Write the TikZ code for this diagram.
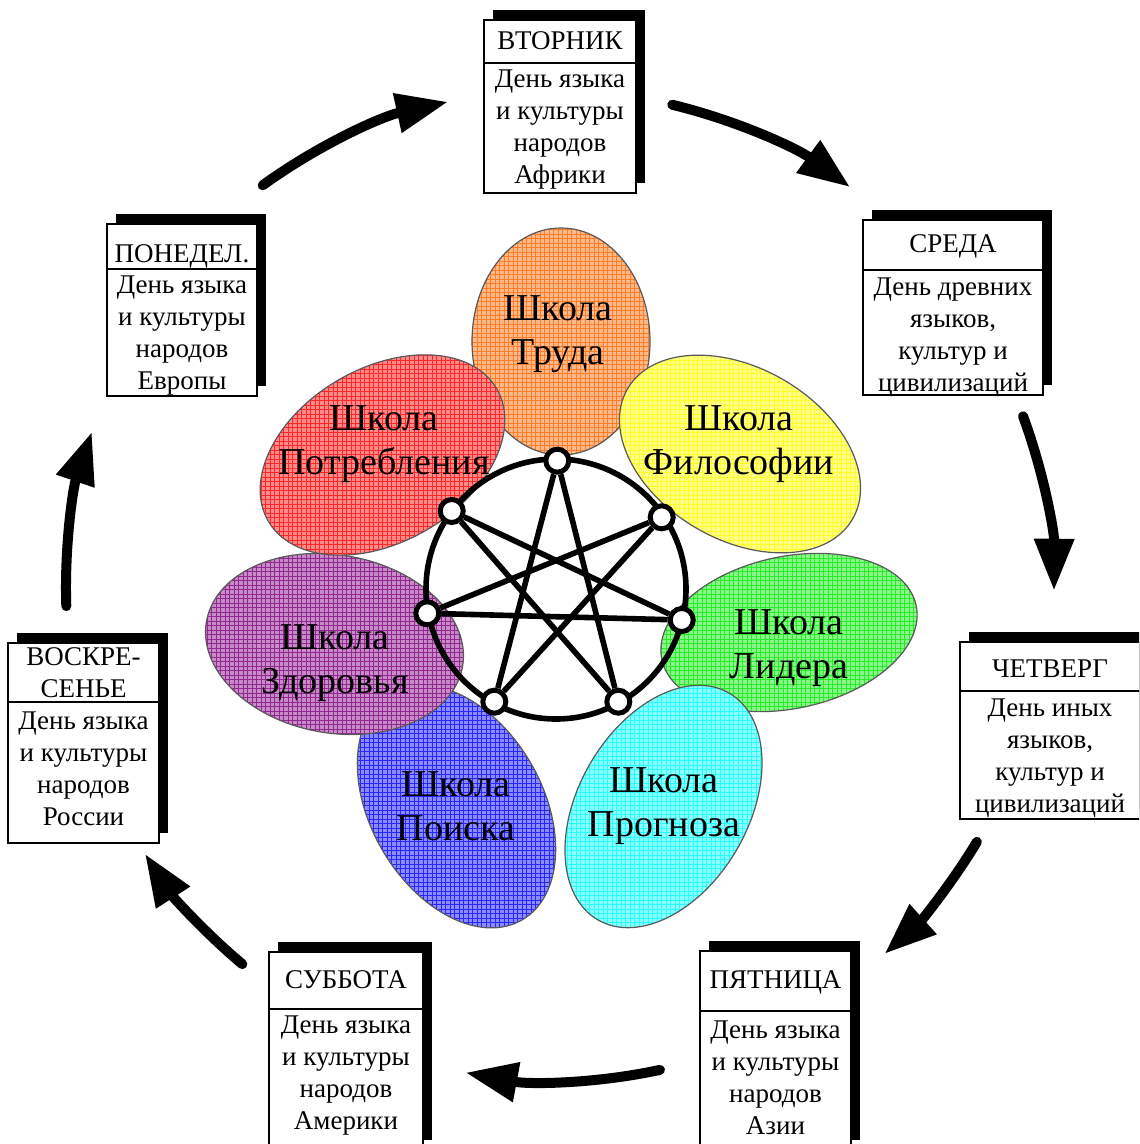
\documentclass[tikz,border=0pt]{standalone}
\usepackage{fontspec}
\setmainfont{Liberation Serif}
\usetikzlibrary{arrows.meta}
\definecolor{pOrange}{RGB}{255,102,0}
\definecolor{pRed}{RGB}{255,0,0}
\definecolor{pYellow}{RGB}{255,255,0}
\definecolor{pGreen}{RGB}{0,235,0}
\definecolor{pCyan}{RGB}{0,255,255}
\definecolor{pBlue}{RGB}{0,0,255}
\definecolor{pPurple}{RGB}{128,0,128}
\tikzset{
  boxline/.style={draw=black, line width=1.2pt, fill=white},
  divline/.style={draw=black, line width=1.2pt},
  boxtext/.style={font=\fontsize{13.5}{16}\selectfont, align=center, inner sep=0pt},
  petaltext/.style={font=\fontsize{19}{22}\selectfont, align=center, inner sep=0pt},
  petaledge/.style={draw=black!65, line width=0.6pt},
  netline/.style={line width=2.8pt},
  netnode/.style={circle, draw=black, fill=white, line width=2.5pt, minimum size=11.5pt, inner sep=0pt},
  dayarrow/.style={line width=5pt, line cap=round, -{Triangle[length=26pt,width=19pt]}},
}
% #1 name, #2 cx, #3 cy, #4 x radius, #5 y radius, #6 rotation, #7 colour
\newcommand\PetalShape[7]{%
  \begin{scope}
    \clip[rotate around={#6:(#2,#3)}] (#2,#3) ellipse[x radius=#4, y radius=#5];
    \fill[#7!45!white] (#2-150,#3+150) rectangle (#2+150,#3-150);
    \draw[#7!85!white, line width=0.28pt, step=2.25pt] (#2-150,#3+150) grid (#2+150,#3-150);
  \end{scope}
  \draw[petaledge, rotate around={#6:(#2,#3)}] (#2,#3) ellipse[x radius=#4, y radius=#5];
}
% #1 name, #2 L, #3 R, #4 T, #5 divider, #6 B, #7 header y, #8 header, #9 body
\newcommand\DayBox[9]{%
  \fill[black] (#2+9,#4-10) rectangle (#3+9,#6-10);
  \draw[boxline] (#2,#4) rectangle (#3,#6);
  \draw[divline] (#2,#5) -- (#3,#5);
  \node[boxtext] (#1h) at ({(#2+#3)/2},#7) {#8};
  \node[boxtext] (#1b) at ({(#2+#3)/2},{#5+67}) {#9};
}
\begin{document}
\begin{tikzpicture}[x=0.5pt,y=-0.5pt]
\clip (0,0) rectangle (1139,1144);
\fill[white] (0,0) rectangle (1139,1144);

% petals
\PetalShape{trud}{561}{341.5}{89}{113.5}{0}{pOrange}
\PetalShape{filo}{740}{454}{130}{86}{-30}{pYellow}
\PetalShape{lid}{789}{632.5}{130}{76}{12}{pGreen}
\PetalShape{prog}{663.5}{806.5}{131}{85}{60}{pCyan}
\PetalShape{poisk}{456.5}{806.5}{131}{86}{-60}{pBlue}
\PetalShape{zdor}{334.5}{644}{130}{89}{-10}{pPurple}
\PetalShape{potr}{382.5}{455}{132}{87}{30}{pRed}

\node[petaltext] (ttrud) at (558,334) {Школа\\Труда};
\node[petaltext] (tfilo) at (739,444) {Школа\\Философии};
\node[petaltext] (tlid) at (789,648) {Школа\\Лидера};
\node[petaltext] (tprog) at (664,806) {Школа\\Прогноза};
\node[petaltext] (tpoisk) at (456,806) {Школа\\Поиска};
\node[petaltext] (tzdor) at (335,663) {Школа\\Здоровья};
\node[petaltext] (tpotr) at (384,444) {Школа\\Потребления};

% network
\coordinate (C) at (556,589);
\draw[netline] (C) circle[radius=130];
\node[netnode] (n0) at (557.3,460.7) {};
\node[netnode] (n1) at (661.7,517.3) {};
\node[netnode] (n2) at (681.7,620) {};
\node[netnode] (n3) at (618.3,701.7) {};
\node[netnode] (n4) at (494.3,701.7) {};
\node[netnode] (n5) at (427.3,613.3) {};
\node[netnode] (n6) at (451.7,511) {};
\draw[netline] (n0) -- (n3);
\draw[netline] (n1) -- (n4);
\draw[netline] (n2) -- (n5);
\draw[netline] (n3) -- (n6);
\draw[netline] (n4) -- (n0);
\draw[netline] (n5) -- (n1);
\draw[netline] (n6) -- (n2);

% day boxes
\DayBox{mon}{107}{257}{224}{269}{396}{256}{ПОНЕДЕЛ.}{День языка\\и культуры\\народов\\Европы}
\DayBox{tue}{484}{636}{20}{63}{193}{41}{ВТОРНИК}{День языка\\и культуры\\народов\\Африки}
\DayBox{wed}{863}{1043}{220}{270}{395}{246}{СРЕДА}{День древних\\языков,\\культур и\\цивилизаций}
\DayBox{thu}{960}{1140}{642}{691}{819}{669}{ЧЕТВЕРГ}{День иных\\языков,\\культур и\\цивилизаций}
\DayBox{fri}{700}{851}{951}{1011}{1150}{982}{ПЯТНИЦА}{День языка\\и культуры\\народов\\Азии}
\DayBox{sat}{269}{423}{952}{1009}{1150}{980}{СУББОТА}{День языка\\и культуры\\народов\\Америки}
\DayBox{sun}{8}{159}{643}{702}{843}{673}{ВОСКРЕ-\\СЕНЬЕ}{День языка\\и культуры\\народов\\России}

% arrows around
\coordinate (a1s) at ([shift={(-126:499)}]C);
\coordinate (a2s) at ([shift={(-76.5:498)}]C);
\coordinate (a3s) at ([shift={(-20.3:498)}]C);
\coordinate (a4s) at ([shift={(31:491)}]C);
\coordinate (a5s) at ([shift={(77.8:492)}]C);
\coordinate (a6s) at ([shift={(129.9:489)}]C);
\coordinate (a7s) at ([shift={(178:490)}]C);
\draw[dayarrow] (a1s) arc[start angle=-126, end angle=-102.5, radius=499];
\draw[dayarrow] (a2s) arc[start angle=-76.5, end angle=-53.8, radius=498];
\draw[dayarrow] (a3s) arc[start angle=-20.3, end angle=0.2, radius=498];
\draw[dayarrow] (a4s) arc[start angle=31, end angle=48, radius=491];
\draw[dayarrow] (a5s) arc[start angle=77.8, end angle=100.6, radius=492];
\draw[dayarrow] (a6s) arc[start angle=129.9, end angle=147.2, radius=489];
\draw[dayarrow] (a7s) arc[start angle=178, end angle=198.7, radius=490];
\end{tikzpicture}
\end{document}
